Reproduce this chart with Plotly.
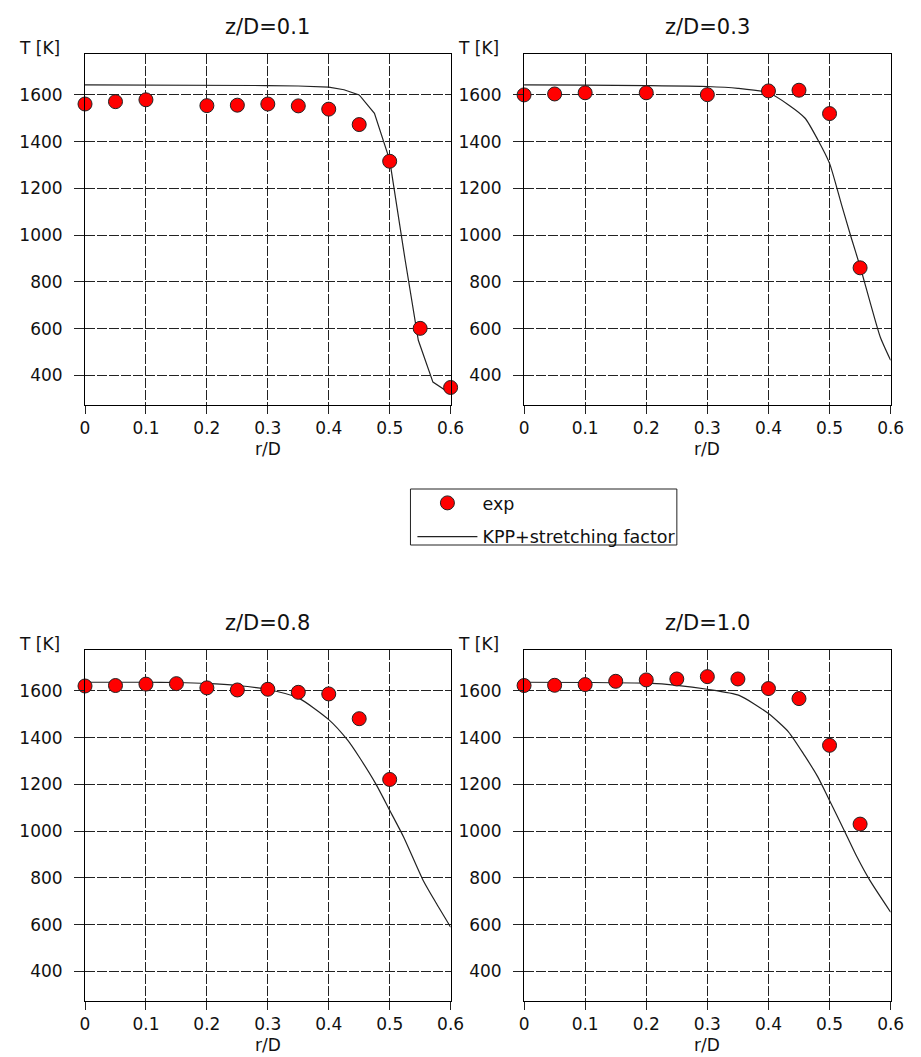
import plotly.graph_objects as go

# ---------------- data ----------------
titles = ["z/D=0.1", "z/D=0.3", "z/D=0.8", "z/D=1.0"]

r_exp_1 = [0, 0.05, 0.1, 0.2, 0.25, 0.3, 0.35, 0.4, 0.45, 0.5, 0.55, 0.6]
T_exp_1 = [1561, 1571, 1579, 1554, 1556, 1561, 1553, 1539, 1473, 1316, 601, 348]
r_kpp_1 = [0, 0.1, 0.2, 0.3, 0.35, 0.4, 0.425, 0.45, 0.475, 0.5, 0.525, 0.547, 0.571, 0.6]
T_kpp_1 = [1643, 1643, 1642, 1640, 1638, 1633, 1622, 1600, 1521, 1321, 900, 550, 371, 321]

r_exp_2 = [0, 0.05, 0.1, 0.2, 0.3, 0.4, 0.45, 0.5, 0.55]
T_exp_2 = [1600, 1604, 1609, 1609, 1601, 1617, 1620, 1520, 860]
r_kpp_2 = [0, 0.1, 0.2, 0.3, 0.35, 0.4, 0.433, 0.46, 0.481, 0.5, 0.519, 0.535, 0.551, 0.567, 0.583, 0.6]
T_kpp_2 = [1643, 1642, 1640, 1636, 1628, 1609, 1557, 1500, 1407, 1307, 1136, 993, 857, 707, 564, 464]

r_exp_3 = [0, 0.05, 0.1, 0.15, 0.2, 0.25, 0.3, 0.35, 0.4, 0.45, 0.5]
T_exp_3 = [1621, 1623, 1629, 1631, 1613, 1604, 1607, 1594, 1587, 1481, 1221]
r_kpp_3 = [0, 0.1, 0.15, 0.2, 0.25, 0.3, 0.35, 0.4, 0.431, 0.45, 0.477, 0.5, 0.523, 0.555, 0.577, 0.6]
T_kpp_3 = [1637, 1637, 1636, 1632, 1623, 1606, 1570, 1477, 1389, 1317, 1203, 1089, 974, 789, 689, 589]

r_exp_4 = [0, 0.05, 0.1, 0.15, 0.2, 0.25, 0.3, 0.35, 0.4, 0.45, 0.5, 0.55]
T_exp_4 = [1623, 1624, 1627, 1641, 1647, 1651, 1661, 1651, 1610, 1567, 1367, 1030]
r_kpp_4 = [0, 0.1, 0.2, 0.25, 0.3, 0.352, 0.4, 0.433, 0.459, 0.481, 0.5, 0.524, 0.545, 0.566, 0.6]
T_kpp_4 = [1637, 1636, 1633, 1624, 1607, 1581, 1503, 1424, 1324, 1231, 1131, 1003, 889, 789, 653]

x_ticks = [0, 0.1, 0.2, 0.3, 0.4, 0.5, 0.6]
x_ticktext = ["0", "0.1", "0.2", "0.3", "0.4", "0.5", "0.6"]
y_ticks = [400, 600, 800, 1000, 1200, 1400, 1600]

exp_sets = [(r_exp_1, T_exp_1), (r_exp_2, T_exp_2), (r_exp_3, T_exp_3), (r_exp_4, T_exp_4)]
kpp_sets = [(r_kpp_1, T_kpp_1), (r_kpp_2, T_kpp_2), (r_kpp_3, T_kpp_3), (r_kpp_4, T_kpp_4)]
kpp_shapes = ["linear", "spline", "spline", "spline"]

# ---------------- layout geometry ----------------
W, H = 921, 1057
FONT = "DejaVu Sans"
px_x = [(81.7, 455.0), (530.0, 904.3), (81.7, 455.0), (530.0, 904.3)]
px_y = [(54.0, 405.0), (54.0, 405.0), (650.0, 1001.0), (650.0, 1001.0)]
DASH = "10px,2px"

fig = go.Figure()
layout = dict(
    width=W, height=H, margin=dict(l=0, r=0, t=0, b=0),
    paper_bgcolor="white", plot_bgcolor="white",
    font=dict(family=FONT, color="#111", size=17),
    showlegend=True,
    legend=dict(x=416 / W, y=1 - 485 / H, xanchor="left", yanchor="top",
                borderwidth=0, bgcolor="rgba(0,0,0,0)",
                font=dict(family=FONT, size=17.5, color="#111"),
                itemwidth=60, tracegroupgap=8),
    shapes=[dict(type="rect", xref="paper", yref="paper",
                 x0=414 / W, x1=686 / W, y0=1 - 545 / H, y1=1 - 489 / H,
                 line=dict(color="#222", width=1), fillcolor="rgba(0,0,0,0)")],
)
annotations = []

for i in range(4):
    ax = "" if i == 0 else str(i + 1)
    xd = [px_x[i][0] / W, px_x[i][1] / W]
    yd = [1 - px_y[i][1] / H, 1 - px_y[i][0] / H]
    common = dict(showline=True, mirror=True, linecolor="black", linewidth=1,
                  ticks="outside", tickcolor="#222",
                  showgrid=True, gridcolor="#222", gridwidth=1, griddash=DASH,
                  zeroline=False, tickfont=dict(family=FONT, size=17, color="#111"))
    layout["xaxis" + ax] = dict(domain=xd, range=[0, 0.6], tickvals=x_ticks, ticktext=x_ticktext,
                                anchor="y" + ax, ticklen=8, ticklabelstandoff=0, **common)
    layout["yaxis" + ax] = dict(domain=yd, range=[273, 1775], tickvals=y_ticks,
                                anchor="x" + ax, ticklen=10, ticklabelstandoff=8, **common)

    r_k, T_k = kpp_sets[i]
    fig.add_trace(go.Scatter(x=r_k, y=T_k, mode="lines", name="KPP+stretching factor",
                             line=dict(color="#222", width=1.2, shape=kpp_shapes[i], smoothing=0.6),
                             showlegend=(i == 0), legendgroup="kpp", legendrank=2,
                             xaxis="x" + ax, yaxis="y" + ax))
    r_e, T_e = exp_sets[i]
    fig.add_trace(go.Scatter(x=r_e, y=T_e, mode="markers", name="exp",
                             marker=dict(color="#ff0000", size=14, line=dict(color="#222", width=1)),
                             cliponaxis=False, showlegend=(i == 0),
                             legendgroup="exp", legendrank=1,
                             xaxis="x" + ax, yaxis="y" + ax))

    cx = (px_x[i][0] + px_x[i][1]) / 2 / W
    top = px_y[i][0]
    annotations.append(dict(text=titles[i], x=cx, y=1 - (top - 27) / H, xref="paper", yref="paper",
                            xanchor="center", yanchor="middle", showarrow=False,
                            font=dict(family=FONT, size=21, color="#111")))
    annotations.append(dict(text="T [K]", x=(px_x[i][0] - 69) / W, y=1 - (top - 6) / H,
                            xref="paper", yref="paper", xanchor="left", yanchor="middle",
                            showarrow=False, font=dict(family=FONT, size=17, color="#111")))
    annotations.append(dict(text="r/D", x=cx, y=1 - (px_y[i][1] + 44) / H, xref="paper", yref="paper",
                            xanchor="center", yanchor="middle", showarrow=False,
                            font=dict(family=FONT, size=17, color="#111")))

layout["annotations"] = annotations
fig.update_layout(**layout)
fig.write_html("out.html")
